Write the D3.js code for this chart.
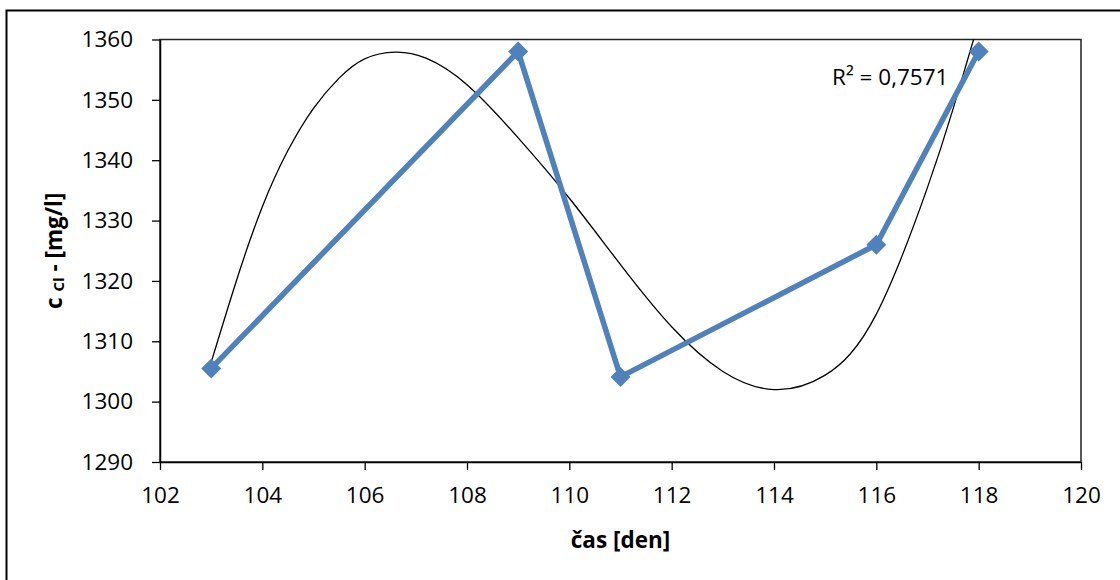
<!DOCTYPE html>
<html>
<head>
<meta charset="utf-8">
<script src="https://cdn.jsdelivr.net/npm/d3@7"></script>
<style>
  body { margin: 0; background: #fff; }
  svg { display: block; font-family: "Open Sans", sans-serif; }
</style>
</head>
<body>
<div id="chart"></div>
<script>
// measured series: day vs chloride concentration
const days = [103, 109, 111, 116, 118];
const conc = [1305.5, 1358, 1304.1, 1326, 1358];

// polynomial trendline, points
const trendX = [103, 103.5, 104, 104.5, 105, 105.5, 106, 106.6, 107.2, 108, 109, 110, 111, 112, 113, 114, 115, 116, 117, 117.5, 117.9, 118.1];
const trendY = [1306.5, 1320.2, 1332.3, 1341.6, 1348.6, 1353.6, 1356.8, 1357.9, 1356.9, 1352.5, 1343.7, 1333.7, 1322.7, 1312.4, 1305, 1302, 1304.4, 1314.5, 1335.5, 1348.5, 1360, 1366];

const xTicks = [102, 104, 106, 108, 110, 112, 114, 116, 118, 120];
const yTicks = [1290, 1300, 1310, 1320, 1330, 1340, 1350, 1360];
const r2Label = "R² = 0,7571";

const width = 1120, height = 580;
const plot = { left: 160, right: 1081, top: 39.5, bottom: 462 };
const fs = "22.5px";

const svg = d3.select("#chart").append("svg")
  .attr("width", width)
  .attr("height", height);

// outer chart border (runs off the right and bottom edge)
svg.append("rect")
  .attr("x", 6.5).attr("y", 10.5)
  .attr("width", 1200).attr("height", 700)
  .attr("fill", "none")
  .attr("stroke", "#000")
  .attr("stroke-width", 2);

const x = d3.scaleLinear().domain([102, 120]).range([plot.left, plot.right]);
const y = d3.scaleLinear().domain([1290, 1360]).range([plot.bottom, plot.top]);

// plot area frame
svg.append("rect")
  .attr("x", plot.left).attr("y", plot.top)
  .attr("width", plot.right - plot.left).attr("height", plot.bottom - plot.top)
  .attr("fill", "none")
  .attr("stroke", "#222")
  .attr("stroke-width", 1.5);

// --- Axes ---
const xAxis = svg.append("g")
  .attr("transform", `translate(0,${plot.bottom})`)
  .call(d3.axisBottom(x).tickValues(xTicks).tickSize(8).tickSizeOuter(0).tickPadding(17).tickFormat(d3.format("d")));

const yAxis = svg.append("g")
  .attr("transform", `translate(${plot.left},0)`)
  .call(d3.axisLeft(y).tickValues(yTicks).tickSize(8).tickSizeOuter(0).tickPadding(19).tickFormat(d3.format("d")));

[xAxis, yAxis].forEach(g => {
  g.select(".domain").attr("stroke", "#000").attr("stroke-width", 1.5);
  g.selectAll(".tick line").attr("stroke", "#000").attr("stroke-width", 1.3);
  g.selectAll(".tick text")
    .attr("fill", "#000")
    .style("font-size", fs)
    .style("font-family", "'Open Sans', sans-serif");
});

// clip for the trendline
svg.append("clipPath").attr("id", "plotClip")
  .append("rect")
  .attr("x", plot.left).attr("y", plot.top)
  .attr("width", plot.right - plot.left).attr("height", plot.bottom - plot.top);

// --- Trendline ---
const trend = trendX.map((d, i) => [d, trendY[i]]);
svg.append("path")
  .datum(trend)
  .attr("clip-path", "url(#plotClip)")
  .attr("fill", "none")
  .attr("stroke", "#000")
  .attr("stroke-width", 1.3)
  .attr("d", d3.line().x(d => x(d[0])).y(d => y(d[1])).curve(d3.curveNatural));

// --- Series ---
const pts = days.map((d, i) => [d, conc[i]]);
const blue = "#4F81BD";

svg.append("path")
  .datum(pts)
  .attr("fill", "none")
  .attr("stroke", blue)
  .attr("stroke-width", 5.5)
  .attr("stroke-linejoin", "round")
  .attr("d", d3.line().x(d => x(d[0])).y(d => y(d[1])));

svg.selectAll(".marker")
  .data(pts)
  .enter()
  .append("path")
  .attr("class", "marker")
  .attr("d", d3.symbol(d3.symbolSquare, 200))
  .attr("transform", d => `translate(${x(d[0])},${y(d[1])}) rotate(45)`)
  .attr("fill", blue);

// R² label
svg.append("text")
  .attr("x", 832)
  .attr("y", 85)
  .style("font-size", fs)
  .text(r2Label);

// --- Axis labels ---
svg.append("text")
  .attr("x", (plot.left + plot.right) / 2)
  .attr("y", 548)
  .attr("text-anchor", "middle")
  .style("font-size", fs)
  .style("font-weight", "bold")
  .text("čas [den]");

const yTitle = svg.append("text")
  .attr("transform", `translate(62,${(plot.top + plot.bottom) / 2}) rotate(-90)`)
  .attr("text-anchor", "middle")
  .style("font-size", fs)
  .style("font-weight", "bold");
yTitle.append("tspan").text("c ");
yTitle.append("tspan").style("font-size", "15px").attr("dy", 2).text("Cl");
yTitle.append("tspan").attr("dy", -2).text(" - [mg/l]");
</script>
</body>
</html>
